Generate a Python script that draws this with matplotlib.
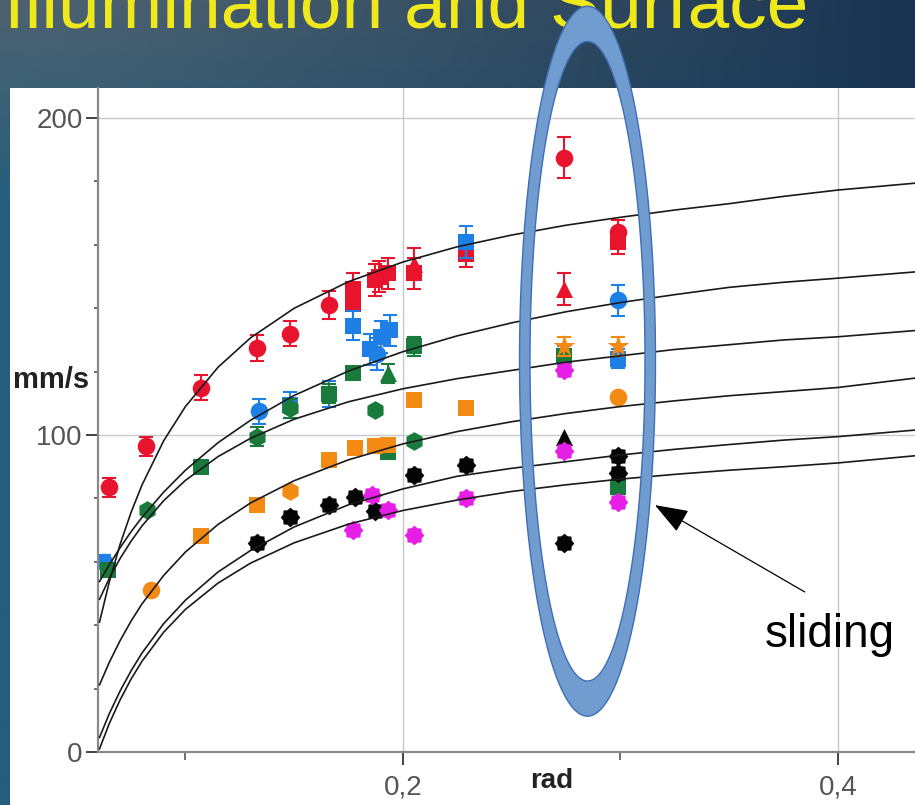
import numpy as np
import matplotlib
matplotlib.use("Agg")
import matplotlib.pyplot as plt
from matplotlib.path import Path
from matplotlib.patches import PathPatch, Rectangle
from matplotlib.ticker import MultipleLocator, FixedLocator

plt.rcParams["font.family"] = ["Liberation Sans", "DejaVu Sans"]

# ---- measured points (x in rad, y in mm/s) ----
red_x = [0.065, 0.082, 0.107, 0.133, 0.148, 0.166, 0.177, 0.177, 0.187, 0.189, 0.193, 0.205, 0.205, 0.229, 0.274, 0.274, 0.299, 0.299]
red_y = [83.5, 96.5, 115, 127.5, 132, 141, 146, 141.5, 149, 150, 151, 154, 151, 157, 187.5, 146, 164, 161]
red_err = [3, 3, 4, 4, 4, 4.5, 5, 5, 5, 5, 5, 5, 5, 4, 6.5, 5, 4, 4]
red_mk = ["o", "o", "o", "o", "o", "o", "s", "s", "s", "s", "s", "^", "s", "s", "o", "^", "o", "s"]

blue_x = [0.0625, 0.134, 0.148, 0.166, 0.177, 0.185, 0.188, 0.190, 0.194, 0.229, 0.274, 0.299, 0.299]
blue_y = [60, 107.5, 109.5, 113, 134.5, 127, 125.5, 131, 133, 161, 125, 142.5, 124]
blue_err = [2, 4, 4, 4, 4.5, 5, 5, 5, 5, 5, 3, 5, 3]
blue_mk = ["o", "o", "s", "s", "s", "s", "o", "s", "s", "s", "s", "o", "s"]

green_x = [0.0645, 0.0823, 0.107, 0.133, 0.148, 0.166, 0.177, 0.187, 0.193, 0.205, 0.193, 0.205, 0.274, 0.299]
green_y = [57.5, 76.5, 90, 99.5, 108.5, 113, 119.5, 108, 119.5, 128, 94.5, 98, 125, 83.5]
green_err = [0, 0, 2, 3, 3, 3, 2, 0, 3, 3, 0, 0, 0, 2]
green_mk = ["s", "h", "s", "h", "h", "s", "s", "h", "^", "s", "s", "h", "s", "s"]

orange_x = [0.084, 0.107, 0.133, 0.148, 0.166, 0.178, 0.187, 0.193, 0.205, 0.229, 0.274, 0.299, 0.299]
orange_y = [51, 68, 78, 82.5, 92, 96, 96.5, 97, 111, 108.5, 128, 128, 112]
orange_err = [0, 0, 0, 0, 0, 0, 0, 0, 0, 0, 3, 3, 0]
orange_mk = ["o", "s", "s", "h", "s", "s", "s", "s", "s", "s", "*", "*", "o"]

black_x = [0.133, 0.148, 0.166, 0.178, 0.187, 0.205, 0.229, 0.274, 0.274, 0.299, 0.299]
black_y = [66, 74, 78, 80.5, 76, 87.5, 90.5, 99.5, 66, 93.5, 88]
black_err = [0] * 11
black_mk = ["g", "g", "g", "g", "g", "g", "g", "^", "g", "g", "g"]

magenta_x = [0.177, 0.186, 0.193, 0.205, 0.229, 0.274, 0.274, 0.299]
magenta_y = [70, 81, 76.5, 68.5, 80, 120.5, 95, 79]
magenta_err = [0] * 8
magenta_mk = ["g"] * 8

# ---- fitted curves ----
curve_x = [0.0605, 0.065, 0.07, 0.075, 0.08, 0.09, 0.1, 0.115, 0.13, 0.15, 0.175, 0.2, 0.225,
           0.25, 0.275, 0.3, 0.325, 0.35, 0.375, 0.4, 0.436]
fit_1 = [41, 53.7, 65.6, 75.6, 84.2, 98.2, 109, 121.4, 130.7, 140, 148.4, 154.6, 159.4,
         163.1, 166.2, 168.7, 171, 173, 175.3, 177.3, 179.5]
fit_2 = [53.8, 59.1, 64.5, 69.5, 74, 82, 88.9, 97.6, 104.7, 112.5, 120.2, 126.3, 131.3,
         135.4, 138.9, 141.8, 144.3, 146.6, 148.2, 149.5, 151.5]
fit_3 = [48.2, 54.8, 61.1, 66.5, 71.3, 79.3, 85.7, 93.2, 99, 105, 110.5, 114.6, 117.8,
         120.4, 123, 125, 127, 128.5, 130, 131, 133]
fit_4 = [21.2, 28.3, 35.2, 41.3, 46.7, 55.7, 63.1, 71.8, 78.6, 85.6, 92.2, 97.2, 101.1,
         104.2, 106.8, 109, 110.8, 112.4, 113.7, 115, 118]
fit_5 = [4.6, 12.1, 19.3, 25.6, 31.2, 40.5, 47.9, 56.8, 63.6, 71, 78, 83, 87,
         89.5, 91.6, 93.7, 95.5, 97, 98.4, 99.5, 101.6]
fit_6 = [1, 9, 16.5, 23, 28.6, 37.8, 45, 53.3, 59.6, 66, 71.9, 76.2, 79.5,
         82.2, 84.3, 86.1, 87.6, 88.9, 90, 91.2, 93.5]

W, H = 915, 805
fig = plt.figure(figsize=(W / 100, H / 100), dpi=100)

# slide background, white panel and title (pixel coordinates)
bg = fig.add_axes([0, 0, 1, 1], zorder=-1)
bg.set_xlim(0, W)
bg.set_ylim(H, 0)
bg.axis("off")
gx = np.linspace(0, 1, 128)[None, :, None]
gy = np.linspace(0, 1, 128)[:, None, None]
left_col = np.array([78, 98, 112]) * (1 - np.clip(gy * 4, 0, 1)) + np.array([38, 94, 124]) * np.clip(gy * 4, 0, 1)
right_col = np.array([24, 52, 82])
t = gx ** 1.3
grad = (left_col * (1 - t) + right_col * t) / 255.0
bg.imshow(grad, extent=(0, W, H, 0), aspect="auto", interpolation="bilinear")
bg.add_patch(Rectangle((10, 88), W - 10, H - 88, facecolor="white", edgecolor="none"))
bg.text(4, 27, "Illumination and Surface", fontsize=54, color="#efe81a",
        ha="left", va="baseline")
bg.text(13, 380, "mm/s", fontsize=21, fontweight="bold", color="#222222",
        ha="left", va="center")

ax = fig.add_axes([98 / W, (H - 752) / H, (W - 98) / W, (752 - 88) / H], zorder=0)
ax.set_facecolor("none")
ax.set_xlim(0.0598, 0.4355)
ax.set_ylim(0, 209.5)

gear_ang = np.linspace(0, 2 * np.pi, 17)[:-1]
gear_r = np.where(np.arange(16) % 2 == 0, 1.0, 0.8)
gear = np.column_stack([gear_r * np.cos(gear_ang), gear_r * np.sin(gear_ang)])
sizes = {"o": 160, "s": 130, "^": 150, "h": 180, "*": 270, "g": 200}


def draw(xs, ys, errs, marks, color):
    for x, y, e, m in zip(xs, ys, errs, marks):
        if e:
            ax.errorbar(x, y, yerr=e, fmt="none", ecolor=color, elinewidth=1.5,
                        capsize=5, capthick=1.5, zorder=2)
        ax.scatter(x, y, s=sizes[m], marker=gear if m == "g" else m,
                   color=color, linewidths=0, zorder=2)


draw(red_x, red_y, red_err, red_mk, "#e8142e")
draw(blue_x, blue_y, blue_err, blue_mk, "#1e7fe6")
draw(green_x, green_y, green_err, green_mk, "#1a7a3c")
draw(orange_x, orange_y, orange_err, orange_mk, "#f28a14")
draw(black_x, black_y, black_err, black_mk, "#050505")
draw(magenta_x, magenta_y, magenta_err, magenta_mk, "#e61ee6")

for fit in [fit_1, fit_2, fit_3, fit_4, fit_5, fit_6]:
    ax.plot(curve_x, fit, color="#1a1a1a", lw=1.2, zorder=3)

# axes styling
for side in ["top", "right"]:
    ax.spines[side].set_visible(False)
for side in ["left", "bottom"]:
    ax.spines[side].set_color("#8a8a8a")
    ax.spines[side].set_linewidth(1.6)
ax.set_xticks([0.2, 0.4], ["0,2", "0,4"])
ax.xaxis.set_minor_locator(FixedLocator([0.1, 0.3]))
ax.set_yticks([0, 100, 200])
ax.yaxis.set_minor_locator(MultipleLocator(20))
ax.tick_params(which="major", direction="out", length=9, width=1.3, color="#333333",
               labelsize=20, labelcolor="#555555")
ax.tick_params(axis="y", which="major", pad=2)
ax.tick_params(axis="x", which="major", pad=7)
ax.tick_params(which="minor", direction="out", length=3, width=1.2, color="#555555")
ax.tick_params(axis="x", which="minor", length=6)
ax.grid(True, which="major", color="#c8c8c8", lw=1.0)
ax.set_axisbelow(True)
fig.text(552 / W, 1 - 781 / H, "rad", fontsize=20, fontweight="bold", color="#222222",
         ha="center", va="center")

# highlighting ring around the last two x positions
cx, cy = 0.2849, 123.3
theta = np.linspace(0, 2 * np.pi, 400)
outer = np.column_stack([cx + 0.03126 * np.cos(theta), cy + 112.0 * np.sin(theta)])
inner = np.column_stack([cx + 0.02644 * np.cos(theta), cy + 100.9 * np.sin(theta)])[::-1]
ring = Path.make_compound_path(Path(outer, closed=True), Path(inner, closed=True))
ax.add_patch(PathPatch(ring, facecolor="#709cd0", edgecolor="#3f6fb5", lw=1.0,
                       clip_on=False, zorder=5))

ax.annotate("", xy=(0.3159, 77.9), xytext=(0.3848, 50.5),
            arrowprops=dict(arrowstyle="-|>,head_length=1.5,head_width=0.55",
                            mutation_scale=14, color="black", lw=0.9,
                            shrinkA=0, shrinkB=0), zorder=6)
ax.text(0.3665, 33.1, "sliding", fontsize=33, color="black", ha="left", va="baseline", zorder=6)

fig.savefig("out.png", dpi=100)
